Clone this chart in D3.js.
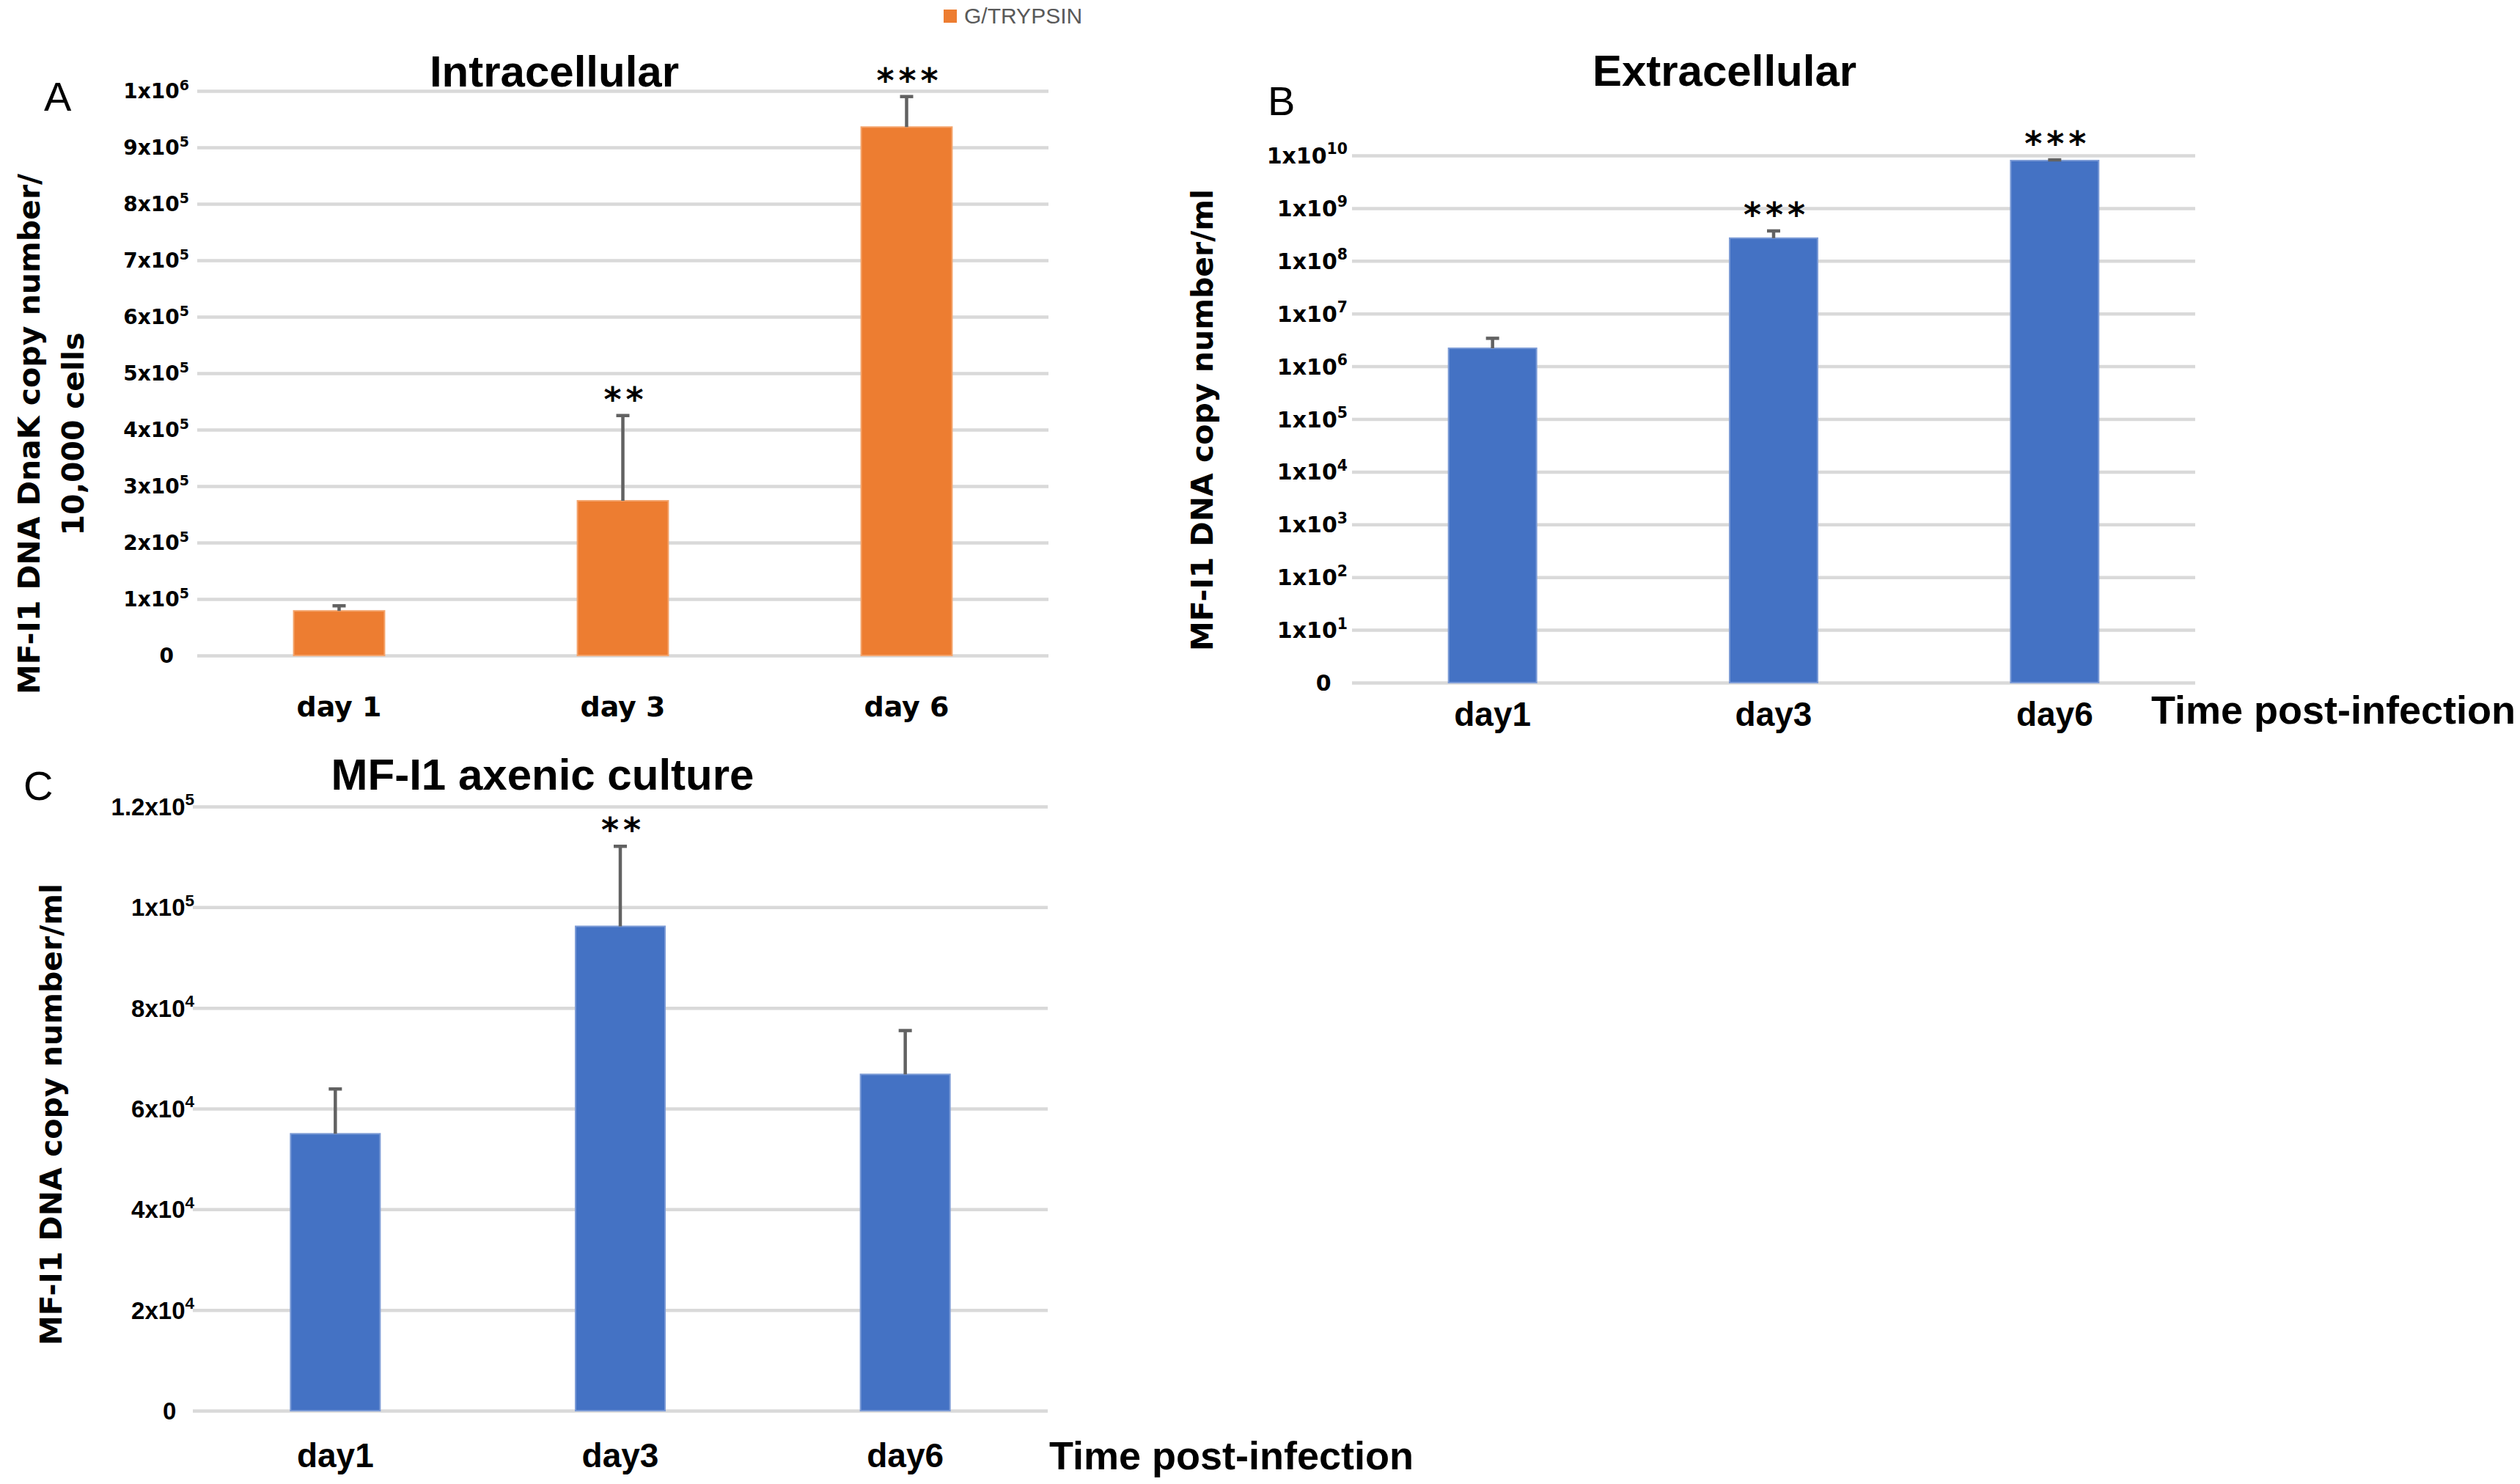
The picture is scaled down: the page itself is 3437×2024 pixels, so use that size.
<!DOCTYPE html>
<html>
<head>
<meta charset="utf-8">
<script src="https://cdn.jsdelivr.net/npm/d3@7"></script>
<style>
body { margin: 0; background: #fff; }
svg { display: block; }
</style>
</head>
<body>
<div id="chart"></div>
<script>
const svgWidth = 3437, svgHeight = 2024;

// panel A - intracellular
const categoriesA = ["day 1", "day 3", "day 6"];
const valuesA = [79000, 274000, 936000];
const errTopA = [88000, 425000, 990000];
const starsA = ["", "**", "***"];
const ticksA = [0, 1e5, 2e5, 3e5, 4e5, 5e5, 6e5, 7e5, 8e5, 9e5, 1e6];
const tickLabelsA = ["0", "1x10^5", "2x10^5", "3x10^5", "4x10^5", "5x10^5",
  "6x10^5", "7x10^5", "8x10^5", "9x10^5", "1x10^6"];

// panel B - extracellular (log)
const categoriesB = ["day1", "day3", "day6"];
const valuesB = [2.2e6, 2.7e8, 8.0e9];
const errTopB = [3.4e6, 3.7e8, 8.25e9];
const starsB = ["", "***", "***"];
const ticksB = [1, 1e1, 1e2, 1e3, 1e4, 1e5, 1e6, 1e7, 1e8, 1e9, 1e10];
const tickLabelsB = ["0", "1x10^1", "1x10^2", "1x10^3", "1x10^4", "1x10^5",
  "1x10^6", "1x10^7", "1x10^8", "1x10^9", "1x10^10"];

// panel C - axenic culture
const categoriesC = ["day1", "day3", "day6"];
const valuesC = [55000, 96200, 66800];
const errTopC = [63900, 112100, 75500];
const starsC = ["", "**", ""];
const ticksC = [0, 2e4, 4e4, 6e4, 8e4, 1e5, 1.2e5];
const tickLabelsC = ["0", "2x10^4", "4x10^4", "6x10^4", "8x10^4", "1x10^5", "1.2x10^5"];

const narrow = "'Liberation Sans', Arial, sans-serif";
const wide = "'DejaVu Sans', Verdana, sans-serif";

const svg = d3.select("#chart")
  .append("svg")
  .attr("width", svgWidth)
  .attr("height", svgHeight);

svg.append("rect").attr("width", svgWidth).attr("height", svgHeight).attr("fill", "#fff");

function drawPanel(p) {
  const y = p.log
    ? d3.scaleLog().domain([1, 1e10]).range([p.bottom, p.top])
    : d3.scaleLinear().domain([0, d3.max(p.ticks)]).range([p.bottom, p.top]);

  const x = d3.scaleBand()
    .domain(p.categories)
    .range([p.left, p.right])
    .paddingInner(p.pad)
    .paddingOuter(p.pad / 2);

  // gridlines + tick labels
  const yAxis = d3.axisLeft(y)
    .tickValues(p.ticks)
    .tickSize(-(p.right - p.left))
    .tickPadding(p.tickPad)
    .tickFormat(() => "");

  const ga = svg.append("g")
    .attr("transform", `translate(${p.left},0)`)
    .call(yAxis);
  ga.select(".domain").remove();
  ga.selectAll(".tick line")
    .attr("stroke", "#d9d9d9")
    .attr("stroke-width", 4.5);
  ga.selectAll(".tick text")
    .attr("font-family", p.tickFont)
    .attr("font-weight", "bold")
    .attr("font-size", p.tickSize)
    .attr("fill", "#000")
    .attr("dy", "0.35em")
    .each(function(d, i) {
      const parts = p.tickLabels[i].split("^");
      const t = d3.select(this);
      t.append("tspan").text(parts[0]);
      if (parts[1]) {
        t.append("tspan")
          .attr("font-size", p.tickSize * 0.68)
          .attr("dy", -p.tickSize * 0.42)
          .text(parts[1]);
      } else {
        // plain "0" sits left, as if a blank exponent followed it
        t.attr("dx", -p.tickSize * 0.75);
      }
    });

  // bars
  svg.append("g").selectAll("rect")
    .data(p.values)
    .enter()
    .append("rect")
    .attr("x", (d, i) => x(p.categories[i]))
    .attr("y", d => y(d))
    .attr("width", x.bandwidth())
    .attr("height", d => p.bottom - y(d))
    .attr("fill", p.color)
    .attr("stroke", p.edge)
    .attr("stroke-width", 2);

  // error bars (upper only)
  const eg = svg.append("g").attr("stroke", "#626262").attr("stroke-width", 4.5);
  p.errTop.forEach((e, i) => {
    const cx = x(p.categories[i]) + x.bandwidth() / 2;
    eg.append("line")
      .attr("x1", cx).attr("x2", cx)
      .attr("y1", y(p.values[i])).attr("y2", y(e));
    eg.append("line")
      .attr("x1", cx - 9).attr("x2", cx + 9)
      .attr("y1", y(e)).attr("y2", y(e));
  });

  // significance stars
  svg.append("g").selectAll("text")
    .data(p.stars)
    .enter()
    .append("text")
    .attr("x", (d, i) => x(p.categories[i]) + x.bandwidth() / 2 + 4)
    .attr("y", (d, i) => y(p.errTop[i]) - 6)
    .attr("text-anchor", "middle")
    .attr("font-family", wide)
    .attr("font-weight", "bold")
    .attr("font-size", 46)
    .attr("letter-spacing", 6)
    .text(d => d);

  // category labels
  svg.append("g").selectAll("text")
    .data(p.categories)
    .enter()
    .append("text")
    .attr("x", d => x(d) + x.bandwidth() / 2)
    .attr("y", p.catY)
    .attr("text-anchor", "middle")
    .attr("font-family", p.catFont)
    .attr("font-weight", "bold")
    .attr("font-size", p.catSize)
    .text(d => d);

  // title and panel letter
  svg.append("text")
    .attr("x", p.titleX).attr("y", p.titleY)
    .attr("text-anchor", "middle")
    .attr("font-family", narrow)
    .attr("font-weight", "bold")
    .attr("font-size", 60)
    .text(p.title);

  svg.append("text")
    .attr("x", p.letterX).attr("y", p.letterY)
    .attr("font-family", narrow)
    .attr("font-size", 56)
    .text(p.letter);

  // y axis title (one or two lines)
  p.yTitle.forEach((line, i) => {
    svg.append("text")
      .attr("transform", `translate(${p.yTitleX[i]}, ${p.yTitleY}) rotate(-90)`)
      .attr("text-anchor", "middle")
      .attr("dy", "0.35em")
      .attr("font-family", wide)
      .attr("font-weight", "bold")
      .attr("font-size", 41)
      .text(line);
  });

  if (p.xTitle) {
    svg.append("text")
      .attr("x", p.xTitleX).attr("y", p.xTitleY)
      .attr("font-family", narrow)
      .attr("font-weight", "bold")
      .attr("font-size", 54)
      .text(p.xTitle);
  }
}

drawPanel({
  categories: categoriesA, values: valuesA, errTop: errTopA, stars: starsA,
  ticks: ticksA, tickLabels: tickLabelsA, log: false,
  left: 269, right: 1430, top: 124, bottom: 894, pad: 0.68,
  color: "#ed7d31", edge: "#f4a46c",
  tickFont: wide, tickSize: 28, tickPad: 11,
  catFont: wide, catSize: 38, catY: 977,
  title: "Intracellular", titleX: 756, titleY: 118,
  letter: "A", letterX: 60, letterY: 151,
  yTitle: ["MF-I1 DNA DnaK copy number/", "10,000 cells"], yTitleX: [40, 100], yTitleY: 592
});

drawPanel({
  categories: categoriesB, values: valuesB, errTop: errTopB, stars: starsB,
  ticks: ticksB, tickLabels: tickLabelsB, log: true,
  left: 1844, right: 2994, top: 212, bottom: 931, pad: 0.687,
  color: "#4472c4", edge: "#7c9bd6",
  tickFont: wide, tickSize: 30, tickPad: 6,
  catFont: narrow, catSize: 46, catY: 990,
  title: "Extracellular", titleX: 2352, titleY: 117,
  letter: "B", letterX: 1729, letterY: 157,
  yTitle: ["MF-I1 DNA copy number/ml"], yTitleX: [1640], yTitleY: 573,
  xTitle: "Time post-infection", xTitleX: 2934, xTitleY: 987
});

drawPanel({
  categories: categoriesC, values: valuesC, errTop: errTopC, stars: starsC,
  ticks: ticksC, tickLabels: tickLabelsC, log: false,
  left: 263, right: 1429, top: 1100, bottom: 1924, pad: 0.686,
  color: "#4472c4", edge: "#7c9bd6",
  tickFont: narrow, tickSize: 33, tickPad: -2,
  catFont: narrow, catSize: 46, catY: 2001,
  title: "MF-I1 axenic culture", titleX: 740, titleY: 1077,
  letter: "C", letterX: 32, letterY: 1091,
  yTitle: ["MF-I1 DNA copy number/ml"], yTitleX: [70], yTitleY: 1520,
  xTitle: "Time post-infection", xTitleX: 1431, xTitleY: 2004
});

// legend
const legend = svg.append("g");
legend.append("rect")
  .attr("x", 1287).attr("y", 13)
  .attr("width", 18).attr("height", 18)
  .attr("fill", "#ed7d31");
legend.append("text")
  .attr("x", 1315).attr("y", 32)
  .attr("font-family", narrow)
  .attr("font-size", 30)
  .attr("fill", "#595959")
  .text("G/TRYPSIN");
</script>
</body>
</html>
